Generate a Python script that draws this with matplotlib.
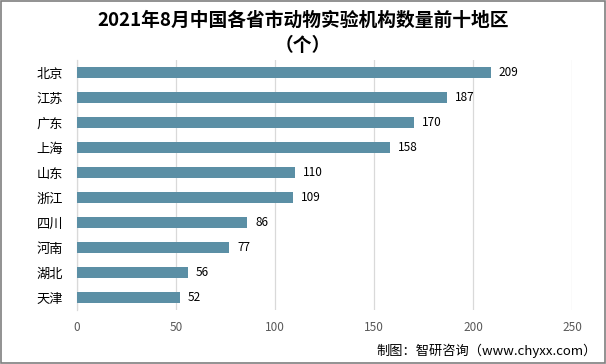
import matplotlib
matplotlib.use("Agg")
import matplotlib.pyplot as plt
from matplotlib.patches import Rectangle

plt.rcParams['font.family'] = ['Noto Sans CJK SC', 'DejaVu Sans']

regions = ["北京", "江苏", "广东", "上海", "山东", "浙江", "四川", "河南", "湖北", "天津"]
counts = [209, 187, 170, 158, 110, 109, 86, 77, 56, 52]
xticks = [0, 50, 100, 150, 200, 250]

fig = plt.figure(figsize=(6.06, 3.64), dpi=100)
ax = fig.add_axes([0.127, 0.148, 0.817, 0.687])

ypos = list(range(len(regions)))[::-1]
ax.barh(ypos, counts, height=0.42, color="#5b8fa5", zorder=3)
for y, v in zip(ypos, counts):
    ax.text(v + 4, y, str(v), va="center", ha="left", fontsize=8.5, color="#000000")

ax.set_xlim(0, 250)
ax.set_ylim(-0.5, len(regions) - 0.5)
ax.set_yticks(ypos)
ax.set_yticklabels(regions, fontsize=9.5)
ax.set_xticks(xticks)
ax.set_xticklabels([str(t) for t in xticks], fontsize=8.5, color="#595959")
ax.tick_params(axis="both", length=0, pad=8)
ax.tick_params(axis="y", pad=10)
ax.grid(axis="x", color="#d9d9d9", linewidth=0.9, zorder=0)
for s in ["top", "right", "bottom"]:
    ax.spines[s].set_visible(False)
ax.spines["left"].set_color("#d9d9d9")
ax.spines["left"].set_linewidth(0.9)

fig.text(0.5, 0.945, "2021年8月中国各省市动物实验机构数量前十地区", ha="center", va="center",
         fontsize=13.5, fontweight="bold")
fig.text(0.5, 0.875, "（个）", ha="center", va="center", fontsize=13.5, fontweight="bold")
fig.text(0.985, 0.035, "制图：智研咨询（www.chyxx.com）", ha="right", va="center", fontsize=9.5)

fig.patches.append(Rectangle((0.001, 0.002), 0.997, 0.996, transform=fig.transFigure,
                             fill=False, edgecolor="#7f7f7f", linewidth=1.2))

fig.savefig("out.png", dpi=100)
